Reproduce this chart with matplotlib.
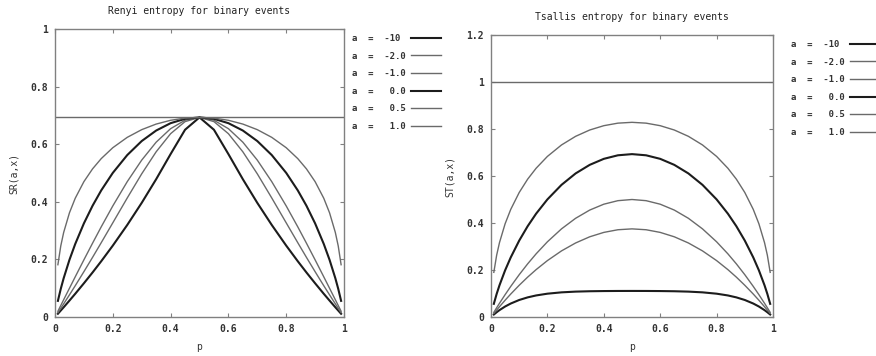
import matplotlib
matplotlib.use('Agg')
from matplotlib import pyplot as plt

# sample points along p (binary event probability)
p = [0.01, 0.02, 0.03, 0.05, 0.07, 0.10, 0.13, 0.16, 0.20, 0.25, 0.30, 0.35, 0.40, 0.45, 0.50,
     0.55, 0.60, 0.65, 0.70, 0.75, 0.80, 0.84, 0.87, 0.90, 0.93, 0.95, 0.97, 0.98, 0.99]
p_flat = [0.0, 1.0]

labels = ['a  =  -10 ', 'a  =  -2.0', 'a  =  -1.0', 'a  =   0.0', 'a  =   0.5', 'a  =   1.0']

# Renyi entropy curves (left panel)
sr_m10 = [0.0112, 0.0225, 0.0338, 0.0570, 0.0806, 0.1171, 0.1547, 0.1937, 0.2479, 0.3196, 0.3963, 0.4784, 0.5657, 0.6502, 0.6931,
          0.6502, 0.5657, 0.4784, 0.3963, 0.3196, 0.2479, 0.1937, 0.1547, 0.1171, 0.0806, 0.0570, 0.0338, 0.0225, 0.0112]
sr_m2 = [0.0151, 0.0303, 0.0457, 0.0769, 0.1086, 0.1574, 0.2072, 0.2581, 0.3270, 0.4133, 0.4971, 0.5736, 0.6365, 0.6784, 0.6931,
         0.6784, 0.6365, 0.5736, 0.4971, 0.4133, 0.3270, 0.2581, 0.2072, 0.1574, 0.1086, 0.0769, 0.0457, 0.0303, 0.0151]
sr_m1 = [0.0200, 0.0400, 0.0600, 0.0998, 0.1395, 0.1985, 0.2564, 0.3131, 0.3857, 0.4700, 0.5447, 0.6070, 0.6539, 0.6832, 0.6931,
         0.6832, 0.6539, 0.6070, 0.5447, 0.4700, 0.3857, 0.3131, 0.2564, 0.1985, 0.1395, 0.0998, 0.0600, 0.0400, 0.0200]
sr_0 = [0.0560, 0.0980, 0.1347, 0.1985, 0.2536, 0.3251, 0.3864, 0.4397, 0.5004, 0.5623, 0.6109, 0.6474, 0.6730, 0.6881, 0.6931,
        0.6881, 0.6730, 0.6474, 0.6109, 0.5623, 0.5004, 0.4397, 0.3864, 0.3251, 0.2536, 0.1985, 0.1347, 0.0980, 0.0560]
sr_05 = [0.1815, 0.2469, 0.2936, 0.3618, 0.4123, 0.4700, 0.5144, 0.5500, 0.5878, 0.6238, 0.6505, 0.6699, 0.6830, 0.6906, 0.6931,
         0.6906, 0.6830, 0.6699, 0.6505, 0.6238, 0.5878, 0.5500, 0.5144, 0.4700, 0.4123, 0.3618, 0.2936, 0.2469, 0.1815]
sr_1 = [0.6931, 0.6931]

# Tsallis entropy curves (right panel)
st_m10 = [0.0106, 0.0203, 0.0292, 0.0446, 0.0573, 0.0724, 0.0835, 0.0917, 0.0992, 0.1049, 0.1080, 0.1096, 0.1104, 0.1108, 0.1109,
          0.1108, 0.1104, 0.1096, 0.1080, 0.1049, 0.0992, 0.0917, 0.0835, 0.0724, 0.0573, 0.0446, 0.0292, 0.0203, 0.0106]
st_m2 = [0.0149, 0.0294, 0.0437, 0.0713, 0.0977, 0.1350, 0.1697, 0.2016, 0.2400, 0.2813, 0.3150, 0.3413, 0.3600, 0.3713, 0.3750,
         0.3713, 0.3600, 0.3413, 0.3150, 0.2813, 0.2400, 0.2016, 0.1697, 0.1350, 0.0977, 0.0713, 0.0437, 0.0294, 0.0149]
st_m1 = [0.0198, 0.0392, 0.0582, 0.0950, 0.1302, 0.1800, 0.2262, 0.2688, 0.3200, 0.3750, 0.4200, 0.4550, 0.4800, 0.4950, 0.5000,
         0.4950, 0.4800, 0.4550, 0.4200, 0.3750, 0.3200, 0.2688, 0.2262, 0.1800, 0.1302, 0.0950, 0.0582, 0.0392, 0.0198]
st_0 = sr_0
st_05 = [0.1900, 0.2627, 0.3162, 0.3966, 0.4579, 0.5298, 0.5866, 0.6330, 0.6833, 0.7321, 0.7688, 0.7957, 0.8141, 0.8249, 0.8284,
         0.8249, 0.8141, 0.7957, 0.7688, 0.7321, 0.6833, 0.6330, 0.5866, 0.5298, 0.4579, 0.3966, 0.3162, 0.2627, 0.1900]
st_1 = [1.0, 1.0]

dark = '#1c1c1c'
gray = '#6a6a6a'
styles = [(dark, 1.5), (gray, 1.0), (gray, 1.0), (dark, 1.5), (gray, 1.0), (gray, 1.0)]
font = 'DejaVu Sans Mono'

plt.rcParams['font.family'] = font
plt.rcParams['font.weight'] = 'bold'

fig = plt.figure(figsize=(8.76, 3.56), dpi=100)
ax1 = fig.add_axes([55/876, 39/356, 289/876, 288/356])
ax2 = fig.add_axes([491/876, 39/356, 282/876, 282/356])

def draw(ax, curves, ymax, yticks, title, ylabel, leg_x, leg_y):
    for (x, y), lab, (c, lw) in zip(curves, labels, styles):
        ax.plot(x, y, color=c, lw=lw, label=lab)
    ax.set_xlim(0, 1)
    ax.set_ylim(0, ymax)
    ax.set_xticks([0, 0.2, 0.4, 0.6, 0.8, 1])
    ax.set_xticklabels(['0', '0.2', '0.4', '0.6', '0.8', '1'])
    ax.set_yticks(yticks)
    ax.set_yticklabels(['0' if t == 0 else ('1' if t == 1 else '%g' % t) for t in yticks])
    ax.tick_params(direction='in', top=True, right=True, length=3, width=0.8,
                   color='#808080', labelsize=7, pad=5, labelcolor='#333333')
    for s in ax.spines.values():
        s.set_color('#808080')
        s.set_linewidth(1.0)
    ax.set_title(title, fontsize=7, pad=11, color='#222222')
    ax.set_xlabel('p', fontsize=7, labelpad=6, color='#333333')
    ax.set_ylabel(ylabel, fontsize=7, labelpad=8, color='#333333')
    ax.legend(loc='upper left', bbox_to_anchor=(leg_x, leg_y), bbox_transform=fig.transFigure,
              frameon=False, markerfirst=False, fontsize=6.5, handlelength=3.3,
              handletextpad=0.6, labelspacing=0.95, borderpad=0, borderaxespad=0,
              labelcolor='#333333')

draw(ax1, [(p, sr_m10), (p, sr_m2), (p, sr_m1), (p, sr_0), (p, sr_05), (p_flat, sr_1)],
     1.0, [0, 0.2, 0.4, 0.6, 0.8, 1.0], 'Renyi entropy for binary events', 'SR(a,x)',
     352/876, 1 - 34/356)
draw(ax2, [(p, st_m10), (p, st_m2), (p, st_m1), (p, st_0), (p, st_05), (p_flat, st_1)],
     1.2, [0, 0.2, 0.4, 0.6, 0.8, 1.0, 1.2], 'Tsallis entropy for binary events', 'ST(a,x)',
     791/876, 1 - 40/356)

fig.savefig('out.png', dpi=100)
